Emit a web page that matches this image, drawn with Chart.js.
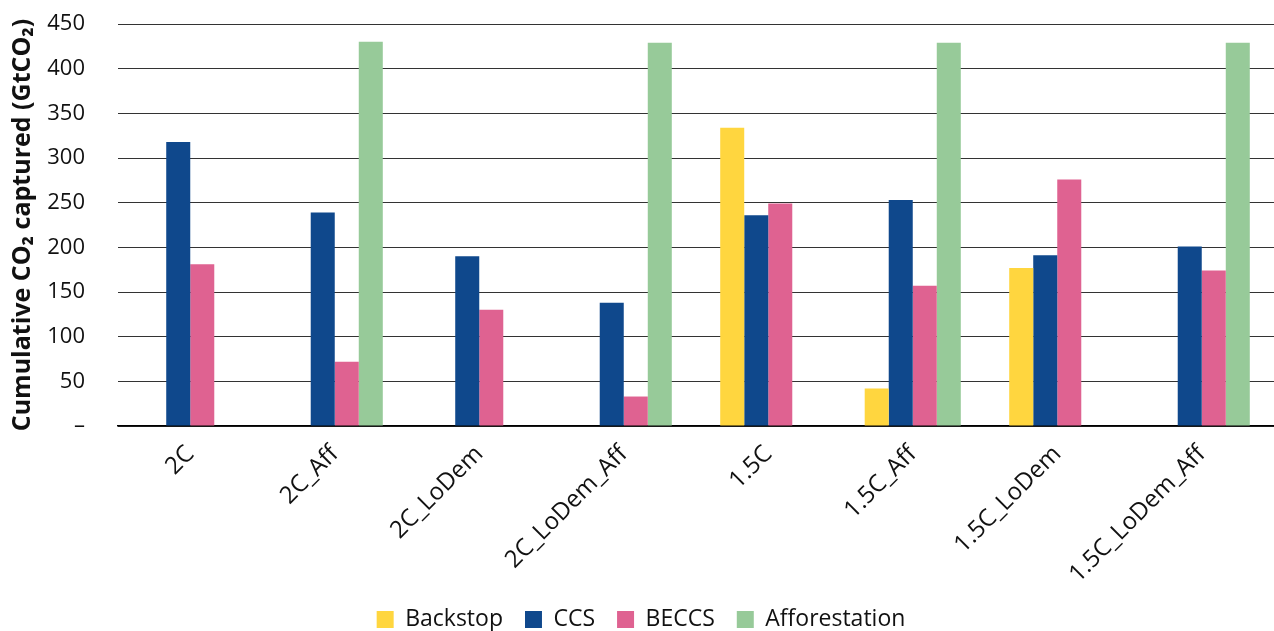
<!DOCTYPE html>
<html>
<head>
<meta charset="utf-8">
<script src="https://cdn.jsdelivr.net/npm/chart.js@4"></script>
<style>
  html, body { margin: 0; padding: 0; background: #fff; }
  .wrap { width: 1274px; height: 631px; }
</style>
</head>
<body>
<div class="wrap"><canvas class="chart-canvas"></canvas></div>
<script>
const scenarios = ["2C", "2C_Aff", "2C_LoDem", "2C_LoDem_Aff", "1.5C", "1.5C_Aff", "1.5C_LoDem", "1.5C_LoDem_Aff"];
const backstop = [null, null, null, null, 334, 42, 177, null];
const ccs = [318, 239, 190, 138, 236, 253, 191, 201];
const beccs = [181, 72, 130, 33, 249, 157, 276, 174];
const afforestation = [null, 430, null, 429, null, 429, null, 429];
const yTicks = [0, 50, 100, 150, 200, 250, 300, 350, 400, 450];

const font = "Open Sans";
const ctx = document.querySelector(".chart-canvas").getContext("2d");

new Chart(ctx, {
  type: "bar",
  data: {
    labels: scenarios,
    datasets: [
      { label: "Backstop", data: backstop, backgroundColor: "#FFD63F" },
      { label: "CCS", data: ccs, backgroundColor: "#0F488C" },
      { label: "BECCS", data: beccs, backgroundColor: "#DF6291" },
      { label: "Afforestation", data: afforestation, backgroundColor: "#97CA99" },
    ],
  },
  options: {
    responsive: true,
    maintainAspectRatio: false,
    animation: false,
    layout: { padding: { top: 24, right: 0, left: 8, bottom: -10 } },
    datasets: { bar: { barPercentage: 1, categoryPercentage: 0.665 } },
    plugins: {
      legend: {
        position: "bottom",
        labels: {
          font: { family: font, size: 23 },
          color: "#111",
          boxWidth: 17,
          boxHeight: 17,
          padding: 22,
        },
      },
      tooltip: { enabled: false },
    },
    scales: {
      x: {
        grid: { display: false, drawTicks: false },
        border: { color: "#000", width: 1.5 },
        afterFit: (s) => { s.height = 160; },
        ticks: {
          font: { family: font, size: 24 },
          color: "#111",
          minRotation: 45,
          maxRotation: 45,
          padding: 14,
        },
      },
      y: {
        min: 0,
        max: 450,
        afterBuildTicks: (s) => { s.ticks = yTicks.map((v) => ({ value: v })); },
        afterFit: (s) => { s.width = 110; s.paddingTop = 0; s.paddingBottom = 0; },
        grid: { color: "#333", lineWidth: 1, drawTicks: false },
        border: { display: false },
        ticks: {
          font: { family: font, size: 22 },
          color: "#111",
          padding: 33,
          callback: (v) => (v === 0 ? "–" : v),
        },
        title: {
          display: true,
          text: "Cumulative CO₂ captured (GtCO₂)",
          font: { family: font, size: 25, weight: "bold" },
          color: "#111",
          padding: 0,
        },
      },
    },
  },
});
</script>
</body>
</html>
